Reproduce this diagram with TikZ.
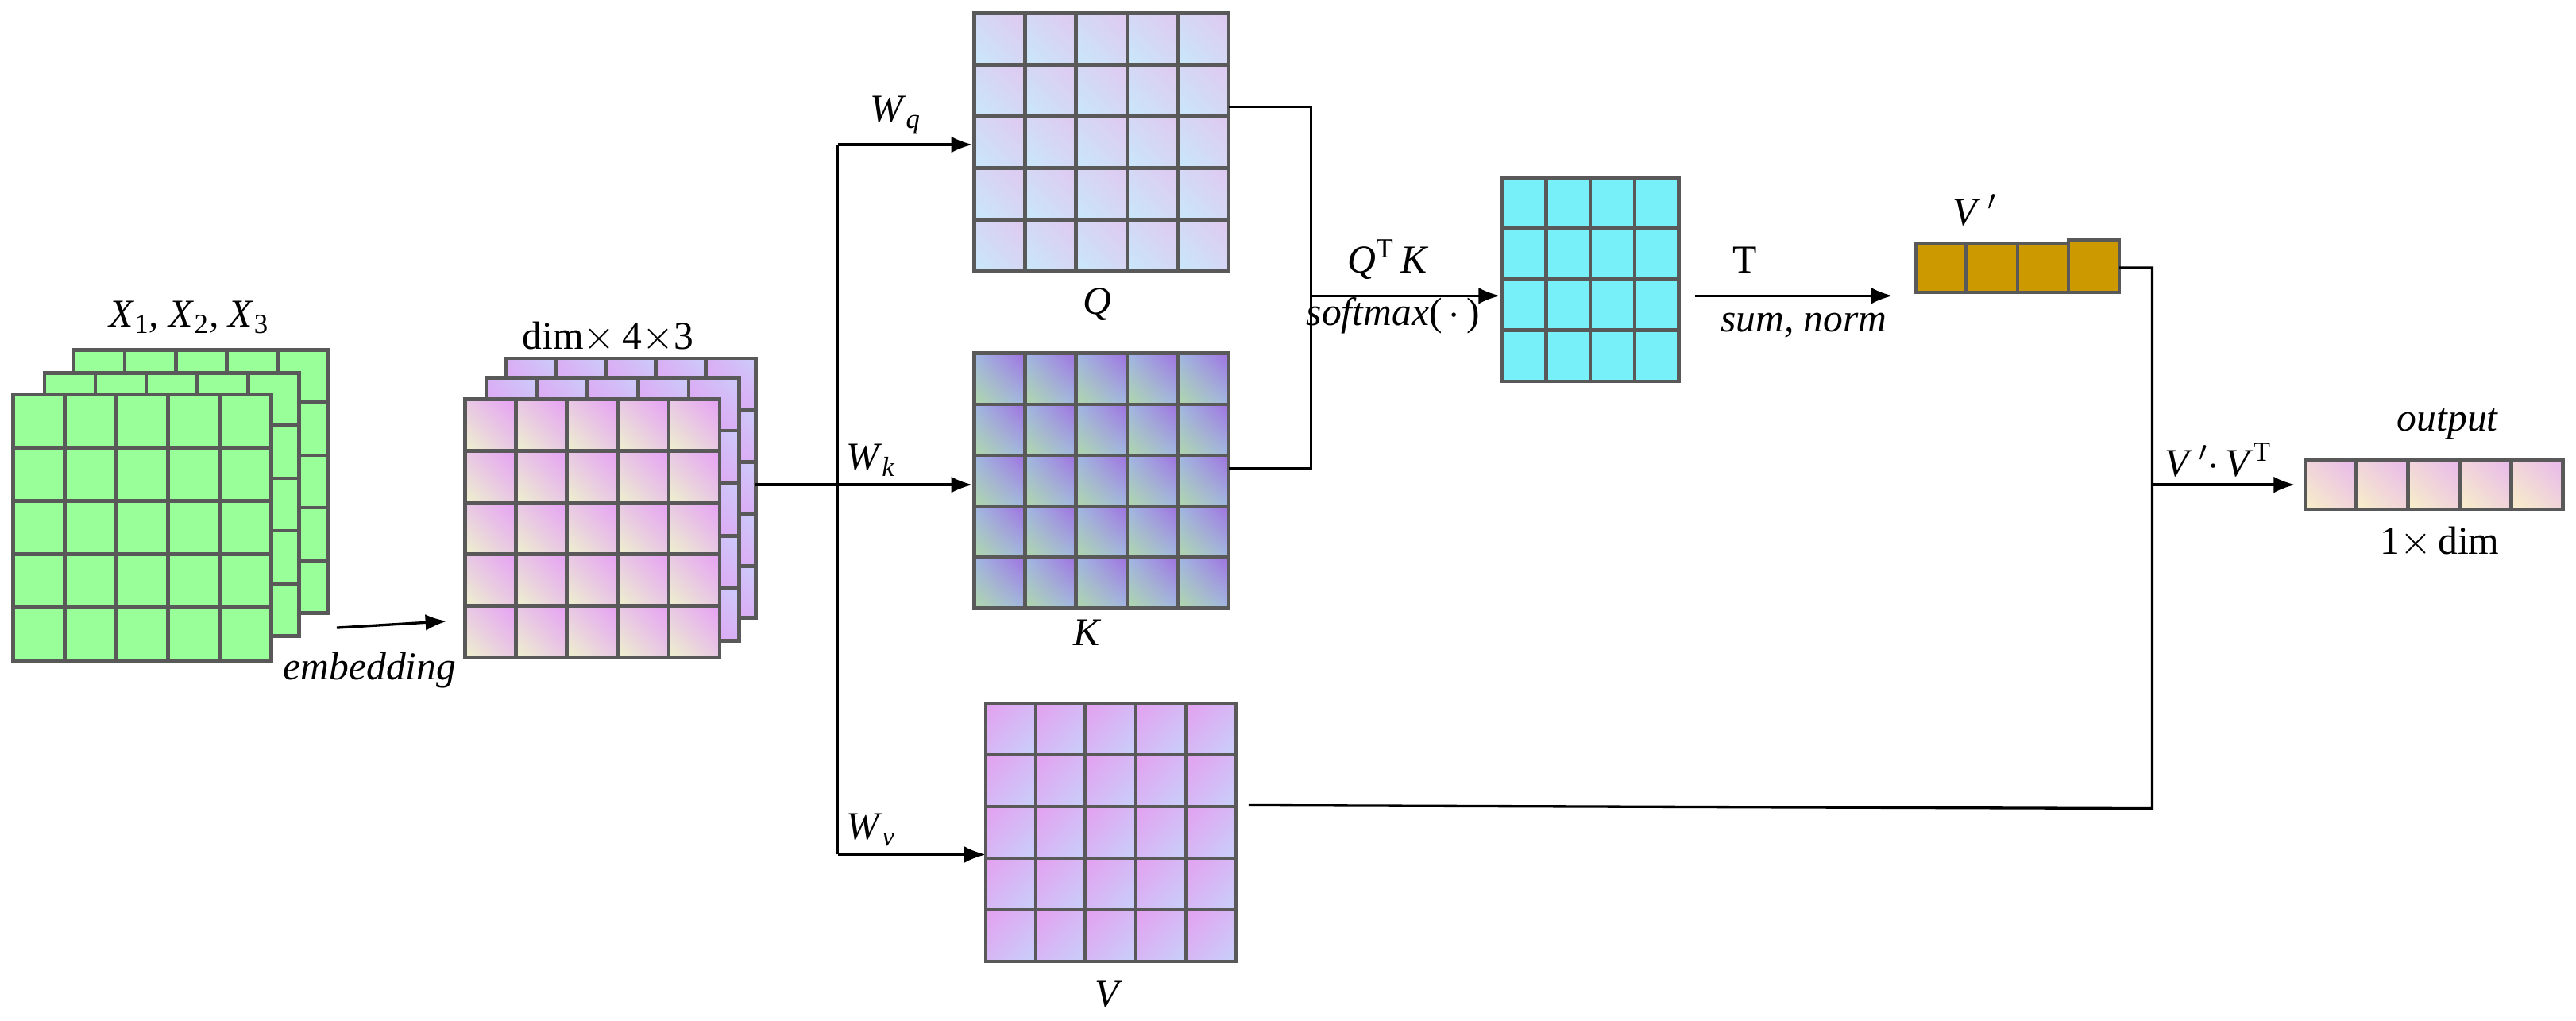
\documentclass[tikz,border=0pt]{standalone}
\usepackage{fontspec}
\setmainfont{Liberation Serif}
\usetikzlibrary{arrows.meta,shadings}
\definecolor{gridgray}{HTML}{595959}
\definecolor{lgreen}{HTML}{99FF99}
\definecolor{pviolet}{HTML}{E6A0F5}
\definecolor{pyellow}{HTML}{EEF2CC}
\definecolor{pmix}{HTML}{E8C8E4}
\definecolor{bviolet}{HTML}{D8B0F4}
\definecolor{blav}{HTML}{CCCCFA}
\definecolor{qlav}{HTML}{E0C8F0}
\definecolor{qblue}{HTML}{C8E8FA}
\definecolor{qmid}{HTML}{D4D8F5}
\definecolor{kviol}{HTML}{A070E0}
\definecolor{kgreen}{HTML}{B0D8A8}
\definecolor{kblue}{HTML}{A0B8E4}
\definecolor{vpink}{HTML}{E4A0F0}
\definecolor{vblue}{HTML}{C8D0FA}
\definecolor{vmid}{HTML}{D6B8F5}
\definecolor{cyanc}{HTML}{78F0FA}
\definecolor{gold}{HTML}{CC9900}
\definecolor{oyel}{HTML}{F8F0C8}
\definecolor{opink}{HTML}{E8B8EC}
\definecolor{omid}{HTML}{F0D4DA}
\newcommand\cellgrid[7]{%
  \foreach \i in {1,...,#5}{\foreach \j in {1,...,#6}{
    \path[#7] ({#1+(\i-1)*#3},{-(#2+(\j-1)*#4)}) rectangle ({#1+\i*#3},{-(#2+\j*#4)});}}
  \foreach \i in {0,...,#5}{\draw[cellline] ({#1+\i*#3},{-#2}) -- ({#1+\i*#3},{-(#2+#6*#4)});}
  \foreach \j in {0,...,#6}{\draw[cellline] ({#1},{-(#2+\j*#4)}) -- ({#1+#5*#3},{-(#2+\j*#4)});}
}
\begin{document}
\begin{tikzpicture}[x=1pt,y=1pt,
  cellline/.style={draw=gridgray,line width=2.2pt,line cap=rect},
  conn/.style={line width=1.6pt},
  arr/.style={conn,-{Latex[length=13pt,width=10pt]}},
  lbl/.style={font=\fontsize{24}{28}\selectfont,inner sep=0pt},
  gfill/.style={fill=lgreen},
  pfront/.style={upper right=pviolet,lower left=pyellow,upper left=pmix,lower right=pmix},
  pback/.style={upper right=blav,lower left=pviolet,upper left=bviolet,lower right=bviolet},
  qfill/.style={upper right=qlav,lower left=qblue,upper left=qmid,lower right=qmid},
  kfill/.style={upper right=kviol,lower left=kgreen,upper left=kblue,lower right=kblue},
  vfill/.style={upper left=vpink,lower right=vblue,upper right=vmid,lower left=vmid},
  cfill/.style={fill=cyanc},
  gdfill/.style={fill=gold},
  ofill/.style={upper right=opink,lower left=oyel,upper left=omid,lower right=omid}]
\useasboundingbox (0,0) rectangle (1568,-621);
% green stack
\cellgrid{45}{213}{31}{32}{5}{5}{gfill}
\cellgrid{27}{227}{31}{32}{5}{5}{gfill}
\cellgrid{8}{240}{31.4}{32.4}{5}{5}{gfill}
\node[lbl] (xlab) at (115,-193) {\textit{X}\textsubscript{1}\textit{, X}\textsubscript{2}\textit{, X}\textsubscript{3}};
\node[lbl] (emb) at (225,-408) {\textit{embedding}};
% purple stack
\cellgrid{308}{218}{30.4}{31.6}{5}{5}{pback}
\cellgrid{296}{230}{30.8}{32}{5}{5}{pback}
\cellgrid{283}{243}{31}{31.4}{5}{5}{pfront}
\node[lbl] (dimlab) at (370,-205) {dim$\times$\,4$\times$3};
\coordinate (gout) at (205,-382);
\coordinate (pin) at (272,-378);
\draw[arr] (gout) -- (pin);
% split
\coordinate (pout) at (460,-295);
\coordinate (sq) at (510,-88);
\coordinate (sk) at (510,-295);
\coordinate (sv) at (510,-520);
\coordinate (qin) at (592,-88);
\coordinate (kin) at (592,-295);
\coordinate (vin) at (600,-520);
\draw[conn] (pout) -- (sk);
\draw[conn] (sq) -- (sv);
\draw[arr] (sq) -- (qin);
\draw[arr] (sk) -- (kin);
\draw[arr] (sv) -- (vin);
\node[lbl] (wq) at (545,-70) {\textit{W}\textsubscript{\textit{q}}};
\node[lbl] (wk) at (530,-280) {\textit{W}\textsubscript{\textit{k}}};
\node[lbl] (wv) at (530,-505) {\textit{W}\textsubscript{\textit{v}}};
% Q K V
\cellgrid{593}{8}{31}{31.4}{5}{5}{qfill}
\node[lbl] (qlab) at (668,-185) {\textit{Q}};
\cellgrid{593}{215}{31}{31}{5}{5}{kfill}
\node[lbl] (klab) at (662,-385) {\textit{K}};
\cellgrid{600}{428}{30.4}{31.4}{5}{5}{vfill}
\node[lbl] (vlab) at (675,-605) {\textit{V}};
% merge to attention
\coordinate (qout) at (748,-65);
\coordinate (kout) at (748,-285);
\coordinate (m1) at (798,-65);
\coordinate (m2) at (798,-285);
\coordinate (mm) at (798,-180);
\coordinate (ain) at (913,-180);
\draw[conn] (qout) -- (m1) -- (m2) -- (kout);
\draw[arr] (mm) -- (ain);
\node[lbl] (qtk) at (845,-158) {\textit{Q}\textsuperscript{T}\,\textit{K}};
\node[lbl] (smax) at (848,-192) {\textit{softmax}(\,$\cdot$\,)};
\cellgrid{914}{108}{27}{31}{4}{4}{cfill}
\coordinate (aout) at (1032,-180);
\coordinate (vpin) at (1152,-180);
\draw[arr] (aout) -- (vpin);
\node[lbl] (tlab) at (1062,-158) {T};
\node[lbl] (snorm) at (1098,-198) {\textit{sum, norm}};
% V'
\cellgrid{1166}{148}{31}{30}{3}{1}{gdfill}
\cellgrid{1259}{146}{31}{32}{1}{1}{gdfill}
\node[lbl] (vplab) at (1202,-128) {\textit{V}\,$'$};
\coordinate (vpout) at (1290,-163);
\coordinate (c1) at (1310,-163);
\coordinate (c2) at (1310,-492);
\coordinate (cm) at (1310,-295);
\coordinate (vout) at (760,-490);
\coordinate (oin) at (1397,-295);
\draw[conn] (vpout) -- (c1) -- (c2) -- (vout);
\draw[arr] (cm) -- (oin);
\node[lbl] (vvt) at (1350,-280) {\textit{V}\,$'\cdot$\,\textit{V}\textsuperscript{T}};
% output
\cellgrid{1403}{280}{31.4}{30}{5}{1}{ofill}
\node[lbl] (olab) at (1490,-258) {\textit{output}};
\node[lbl] (odim) at (1485,-330) {1$\times$\,dim};
\end{tikzpicture}
\end{document}
